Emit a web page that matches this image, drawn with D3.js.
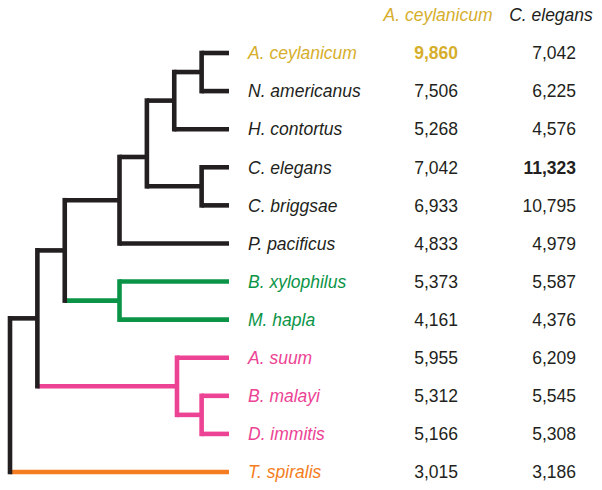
<!DOCTYPE html>
<html>
<head>
<meta charset="utf-8">
<script src="https://cdn.jsdelivr.net/npm/d3@7"></script>
<style>
  html, body { margin: 0; padding: 0; background: #fff; }
  svg { display: block; }
  text { font-family: "Liberation Sans", Arial, Helvetica, sans-serif; }
</style>
</head>
<body>
<svg id="chart" width="602" height="490"></svg>
<script>
// ---- data ----
const species = ["A. ceylanicum", "N. americanus", "H. contortus", "C. elegans", "C. briggsae",
  "P. pacificus", "B. xylophilus", "M. hapla", "A. suum", "B. malayi", "D. immitis", "T. spiralis"];
const aceyCounts = [9860, 7506, 5268, 7042, 6933, 4833, 5373, 4161, 5955, 5312, 5166, 3015];
const celegCounts = [7042, 6225, 4576, 11323, 10795, 4979, 5587, 4376, 6209, 5545, 5308, 3186];
const columnHeaders = ["A. ceylanicum", "C. elegans"];
const labelGroup = ["acey", "k", "k", "k", "k", "k", "nem", "nem", "asc", "asc", "asc", "tri"];
const branchGroup = ["k", "k", "k", "k", "k", "k", "nem", "nem", "asc", "asc", "asc", "tri"];
// internal nodes: children (species name or node id), depth (branch level)
const treeNodes = [
  { id: "n1", children: ["A. ceylanicum", "N. americanus"], depth: 7, group: "k" },
  { id: "n2", children: ["n1", "H. contortus"], depth: 6, group: "k" },
  { id: "n3", children: ["C. elegans", "C. briggsae"], depth: 7, group: "k" },
  { id: "n4", children: ["n2", "n3"], depth: 5, group: "k", yAt: 2.73 },
  { id: "n5", children: ["n4", "P. pacificus"], depth: 4, group: "k" },
  { id: "n6", children: ["B. xylophilus", "M. hapla"], depth: 4, group: "nem" },
  { id: "n7", children: ["n5", "n6"], depth: 2, group: "k" },
  { id: "n8", children: ["B. malayi", "D. immitis"], depth: 7, group: "asc" },
  { id: "n9", children: ["A. suum", "n8"], depth: 6.1, group: "asc" },
  { id: "n10", children: ["n7", "n9"], depth: 1, group: "k" },
  { id: "root", children: ["n10", "T. spiralis"], depth: 0, group: "k" }
];
const leafDepth = 8;

// ---- styles ----
const colors = { acey: "#D6AE2C", k: "#231F20", nem: "#0B9447", asc: "#EC4394", tri: "#F47D22" };
const fmt = d3.format(",");

const svg = d3.select("#chart");
const y = d3.scalePoint().domain(species).range([53, 472]);
const yIdx = d3.scaleLinear().domain([0, species.length - 1]).range([53, 472]);
const x = d3.scaleLinear().domain([0, leafDepth]).range([10, 229]);

// compute node positions
const pos = {};
species.forEach((s, i) => { pos[s] = { x: x(leafDepth), y: y(s), group: branchGroup[i] }; });
treeNodes.forEach(n => {
  const cy = n.children.map(c => pos[c].y);
  const yy = n.yAt != null ? yIdx(n.yAt) : d3.mean([d3.min(cy), d3.max(cy)]);
  pos[n.id] = { x: x(n.depth), y: yy, group: n.group };
});

const sw = 4.6;
const gTree = svg.append("g");
// horizontal segments (colored by child)
treeNodes.forEach(n => {
  n.children.forEach(c => {
    gTree.append("line")
      .attr("x1", pos[n.id].x).attr("x2", pos[c].x)
      .attr("y1", pos[c].y).attr("y2", pos[c].y)
      .attr("stroke", colors[pos[c].group]).attr("stroke-width", sw)
      .attr("stroke-linecap", "butt");
  });
});
// vertical segments (colored by parent)
treeNodes.forEach(n => {
  const cy = n.children.map(c => pos[c].y);
  gTree.append("line")
    .attr("x1", pos[n.id].x).attr("x2", pos[n.id].x)
    .attr("y1", d3.min(cy)).attr("y2", d3.max(cy))
    .attr("stroke", colors[n.group]).attr("stroke-width", sw)
    .attr("stroke-linecap", "square");
});

// labels
const fs = 17.5;
svg.append("g").selectAll("text").data(species).join("text")
  .attr("x", 248).attr("y", d => y(d)).attr("dy", "0.36em")
  .attr("font-size", fs).attr("font-style", "italic")
  .attr("fill", (d, i) => colors[labelGroup[i]])
  .text(d => d);

// headers
svg.append("text").attr("x", 438).attr("y", 21).attr("text-anchor", "middle")
  .attr("font-size", fs).attr("font-style", "italic").attr("fill", colors.acey)
  .text(columnHeaders[0]);
svg.append("text").attr("x", 551).attr("y", 21).attr("text-anchor", "middle")
  .attr("font-size", fs).attr("font-style", "italic").attr("fill", colors.k)
  .text(columnHeaders[1]);

// numbers
const maxA = d3.max(aceyCounts), maxC = d3.max(celegCounts);
svg.append("g").selectAll("text").data(aceyCounts).join("text")
  .attr("x", 458).attr("y", (d, i) => y(species[i])).attr("dy", "0.36em")
  .attr("text-anchor", "end").attr("font-size", fs)
  .attr("font-weight", d => d === maxA ? "bold" : "normal")
  .attr("fill", d => d === maxA ? colors.acey : colors.k)
  .text(d => fmt(d));
svg.append("g").selectAll("text").data(celegCounts).join("text")
  .attr("x", 576).attr("y", (d, i) => y(species[i])).attr("dy", "0.36em")
  .attr("text-anchor", "end").attr("font-size", fs)
  .attr("font-weight", d => d === maxC ? "bold" : "normal")
  .attr("fill", colors.k)
  .text(d => fmt(d));
</script>
</body>
</html>
